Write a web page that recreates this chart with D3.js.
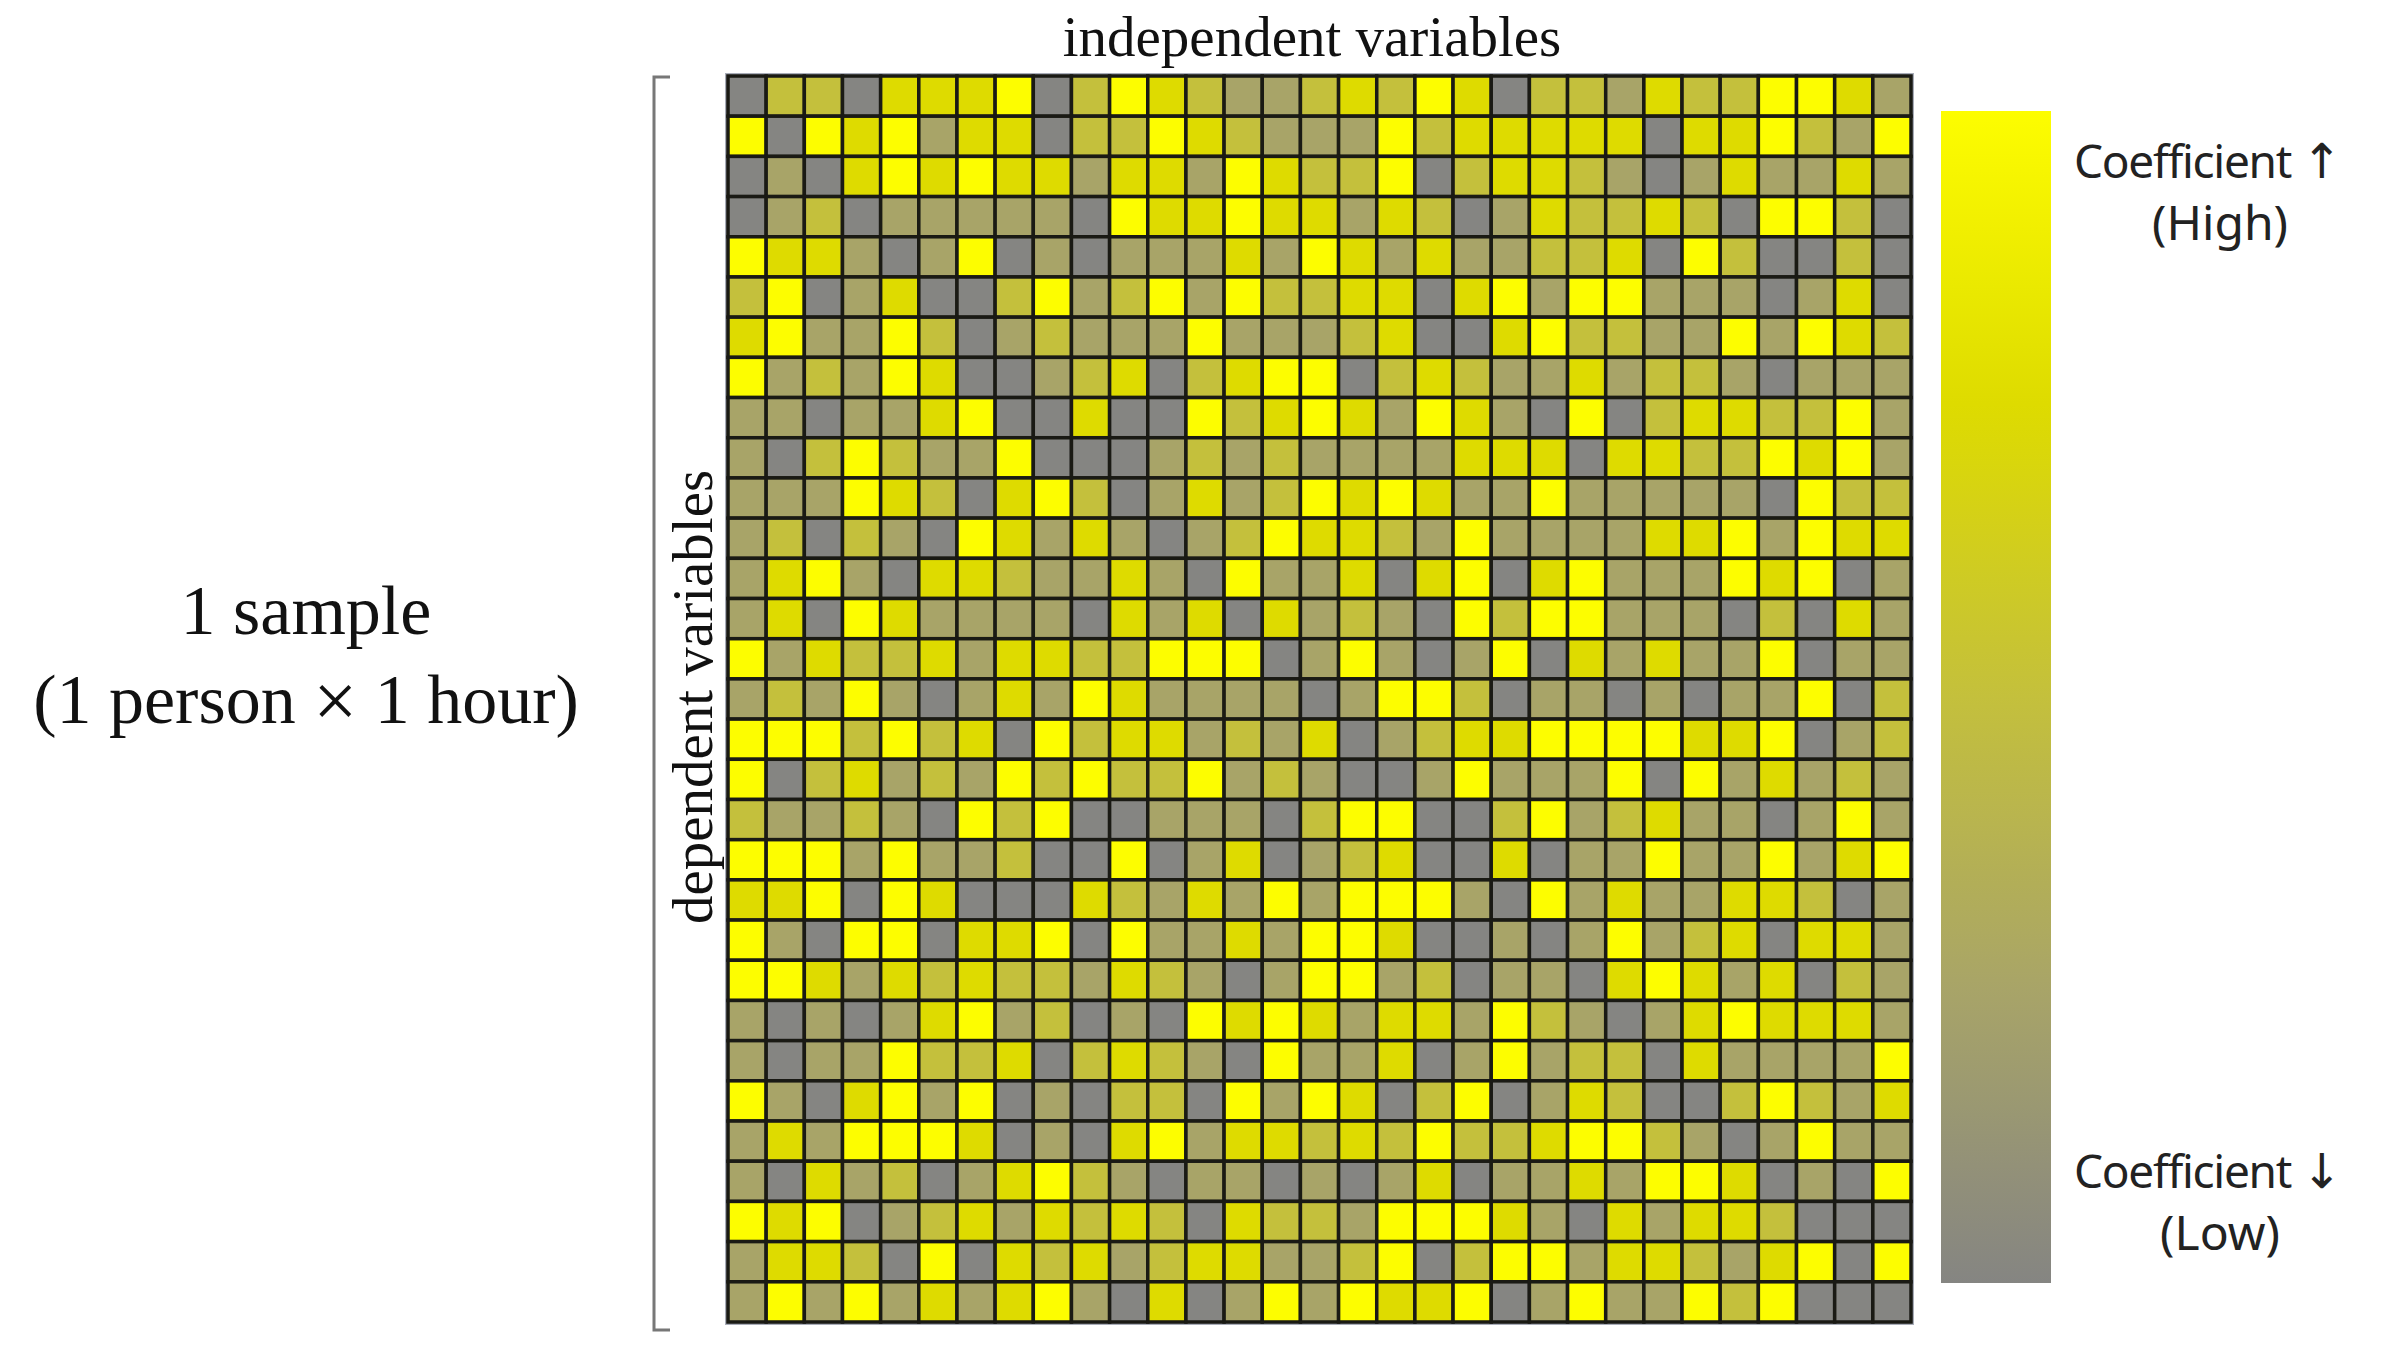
<!DOCTYPE html>
<html>
<head>
<meta charset="utf-8">
<script src="https://cdn.jsdelivr.net/npm/d3@7"></script>
<style>
  body { margin: 0; background: #fff; }
</style>
</head>
<body>
<script>
// Coefficient level per cell (0 = lowest / grey ... 4 = highest / yellow), rows = dependent variables
const coefLevels = [
  [0,2,2,0,3,3,3,4,0,2,4,3,2,1,1,2, 3,2,4,3,0,2,2,1,3,2,2,4,4,3,1],
  [4,0,4,3,4,1,3,3,0,2,2,4,3,2,1,1, 1,4,2,3,3,3,3,3,0,3,3,4,2,1,4],
  [0,1,0,3,4,3,4,3,3,1,3,3,1,4,3,2, 2,4,0,2,3,3,2,1,0,1,3,1,1,3,1],
  [0,1,2,0,1,1,1,1,1,0,4,3,3,4,3,3, 1,3,2,0,1,3,2,2,3,2,0,4,4,2,0],
  [4,3,3,1,0,1,4,0,1,0,1,1,1,3,1,4, 3,1,3,1,1,2,2,3,0,4,2,0,0,2,0],
  [2,4,0,1,3,0,0,2,4,1,2,4,1,4,2,2, 3,3,0,3,4,1,4,4,1,1,1,0,1,3,0],
  [3,4,1,1,4,2,0,1,2,1,1,1,4,1,1,1, 2,3,0,0,3,4,2,2,1,1,4,1,4,3,2],
  [4,1,2,1,4,3,0,0,1,2,3,0,2,3,4,4, 0,2,3,2,1,1,3,1,2,2,1,0,1,1,1],
  [1,1,0,1,1,3,4,0,0,3,0,0,4,2,3,4, 3,1,4,3,1,0,4,0,2,3,3,2,2,4,1],
  [1,0,2,4,2,1,1,4,0,0,0,1,2,1,2,1, 1,1,1,3,3,3,0,3,3,2,2,4,3,4,1],
  [1,1,1,4,3,2,0,3,4,2,0,1,3,1,2,4, 3,4,3,1,1,4,1,1,1,1,1,0,4,2,2],
  [1,2,0,2,1,0,4,3,1,3,1,0,1,2,4,3, 3,2,1,4,1,1,1,1,3,3,4,1,4,3,3],
  [1,3,4,1,0,3,3,2,1,1,3,1,0,4,1,1, 3,0,3,4,0,3,4,1,1,1,4,3,4,0,1],
  [1,3,0,4,3,1,1,1,1,0,3,1,3,0,3,1, 2,1,0,4,2,4,4,1,1,1,0,2,0,3,1],
  [4,1,3,2,2,3,1,3,3,2,2,4,4,4,0,1, 4,1,0,1,4,0,3,1,3,1,1,4,0,1,1],
  [1,2,1,4,1,0,1,3,1,4,3,1,1,1,1,0, 1,4,4,2,0,1,1,0,1,0,1,1,4,0,2],
  [4,4,4,2,4,2,3,0,4,2,3,3,1,2,1,3, 0,1,2,3,3,4,4,4,4,3,3,4,0,1,2],
  [4,0,2,3,1,2,1,4,2,4,2,2,4,1,2,1, 0,0,1,4,1,1,1,4,0,4,1,3,1,2,1],
  [2,1,1,2,1,0,4,2,4,0,0,1,1,1,0,2, 4,4,0,0,2,4,1,2,3,1,1,0,1,4,1],
  [4,4,4,1,4,1,1,2,0,0,4,0,1,3,0,1, 2,3,0,0,3,0,1,1,4,1,1,4,1,3,4],
  [3,3,4,0,4,3,0,0,0,3,2,1,3,1,4,1, 4,4,4,1,0,4,1,3,1,1,3,3,2,0,1],
  [4,1,0,4,4,0,3,3,4,0,4,1,1,3,1,4, 4,3,0,0,1,0,1,4,1,2,3,0,3,3,1],
  [4,4,3,1,3,2,3,2,2,1,3,2,1,0,1,4, 4,1,2,0,1,1,0,3,4,3,1,3,0,2,1],
  [1,0,1,0,1,3,4,1,2,0,1,0,4,3,4,3, 1,3,3,1,4,2,1,0,1,3,4,3,3,3,1],
  [1,0,1,1,4,2,2,3,0,2,3,2,1,0,4,1, 1,3,0,1,4,1,2,2,0,3,1,1,1,1,4],
  [4,1,0,3,4,1,4,0,1,0,2,2,0,4,1,4, 3,0,2,4,0,1,3,2,0,0,2,4,2,1,3],
  [1,3,1,4,4,4,3,0,1,0,3,4,1,3,3,2, 3,2,4,2,2,3,4,4,2,1,0,1,4,1,1],
  [1,0,3,1,2,0,1,3,4,2,1,0,1,1,0,1, 0,1,3,0,1,1,3,1,4,4,3,0,1,0,4],
  [4,3,4,0,1,2,3,1,3,2,3,2,0,3,2,2, 1,4,4,4,3,1,0,3,1,3,3,2,0,0,0],
  [1,3,3,2,0,4,0,3,2,3,1,2,3,3,1,1, 2,4,0,2,4,4,1,3,3,2,1,3,4,0,4],
  [1,4,1,4,1,3,1,3,4,1,0,3,0,1,4,1, 4,3,3,4,0,1,4,1,1,4,2,4,0,0,0]
];

// Variable ids (no tick labels are shown in the figure)
const independentVars = d3.range(1, 32).map(i => "x" + i);
const dependentVars = d3.range(1, 32).map(i => "y" + i);

// Colour steps from low to high coefficient
const levelDomain = [0, 1, 2, 3, 4];
const levelColors = ["#858582", "#a8a468", "#c4c03c", "#dedb00", "#fdfd00"];

document.addEventListener("DOMContentLoaded", function () {
    const width = 2381;
    const height = 1359;

    // Heatmap area
    const grid = { left: 728, right: 1911, top: 76, bottom: 1322 };

    const svg = d3.select("body").append("svg")
        .attr("width", width)
        .attr("height", height)
        .attr("viewBox", [0, 0, width, height]);

    const x = d3.scaleBand()
        .domain(independentVars)
        .range([grid.left, grid.right]);

    const y = d3.scaleBand()
        .domain(dependentVars)
        .range([grid.top, grid.bottom]);

    const color = d3.scaleLinear()
        .domain(levelDomain)
        .range(levelColors);

    // Flatten to cells
    const cells = [];
    coefLevels.forEach((row, i) => {
        row.forEach((v, j) => {
            cells.push({ row: dependentVars[i], col: independentVars[j], value: v });
        });
    });

    // thin outer frame
    svg.append("rect")
        .attr("x", grid.left - 2)
        .attr("y", grid.top - 2)
        .attr("width", grid.right - grid.left + 4)
        .attr("height", grid.bottom - grid.top + 4)
        .attr("fill", "none")
        .attr("stroke", "#a9adb8")
        .attr("stroke-width", 2);

    // Cells
    svg.append("g")
        .selectAll("rect")
        .data(cells)
        .join("rect")
        .attr("x", d => x(d.col))
        .attr("y", d => y(d.row))
        .attr("width", x.bandwidth())
        .attr("height", y.bandwidth())
        .attr("fill", d => color(d.value))
        .attr("stroke", "#1a1a14")
        .attr("stroke-width", 3.5);

    const serif = "'Liberation Serif', 'Times New Roman', serif";

    // Top title
    svg.append("text")
        .attr("x", 1312)
        .attr("y", 56)
        .attr("text-anchor", "middle")
        .attr("font-family", serif)
        .attr("font-size", 57)
        .attr("fill", "#111")
        .text("independent variables");

    // Rotated left title
    svg.append("text")
        .attr("transform", "translate(712,697) rotate(-90)")
        .attr("text-anchor", "middle")
        .attr("font-family", serif)
        .attr("font-size", 57)
        .attr("fill", "#111")
        .text("dependent variables");

    // Bracket
    svg.append("path")
        .attr("d", `M670,${grid.top + 1} H654 V${grid.bottom + 8} H670`)
        .attr("fill", "none")
        .attr("stroke", "#777")
        .attr("stroke-width", 3);

    // Sample description
    svg.append("text")
        .attr("x", 306)
        .attr("y", 634)
        .attr("text-anchor", "middle")
        .attr("font-family", serif)
        .attr("font-size", 70)
        .attr("fill", "#111")
        .text("1 sample");

    const line2 = svg.append("text")
        .attr("x", 306)
        .attr("y", 723)
        .attr("text-anchor", "middle")
        .attr("font-family", serif)
        .attr("font-size", 70)
        .attr("fill", "#111");
    line2.append("tspan").text("(1 person ");
    line2.append("tspan").attr("font-size", 78).attr("dy", 4).text("\u00d7");
    line2.append("tspan").attr("dy", -4).text(" 1 hour)");

    // Colour bar
    const bar = { x: 1941, y: 111, w: 110, h: 1172 };
    const grad = svg.append("defs").append("linearGradient")
        .attr("id", "coefGrad")
        .attr("x1", 0).attr("y1", 0).attr("x2", 0).attr("y2", 1);
    grad.selectAll("stop")
        .data(d3.range(0, 1.0001, 0.05))
        .join("stop")
        .attr("offset", t => t)
        .attr("stop-color", t => color(4 * (1 - t)));

    svg.append("rect")
        .attr("x", bar.x)
        .attr("y", bar.y)
        .attr("width", bar.w)
        .attr("height", bar.h)
        .attr("fill", "url(#coefGrad)");

    // Colour bar labels
    const labelFont = "'Noto Sans', 'Open Sans', sans-serif";
    const barLabels = [
        { word: "Coefficient", arrow: "\u2191", sub: "(High)", y: 178 },
        { word: "Coefficient", arrow: "\u2193", sub: "(Low)", y: 1188 }
    ];

    barLabels.forEach(l => {
        const head = svg.append("text")
            .attr("x", 2074)
            .attr("y", l.y)
            .attr("font-family", labelFont)
            .attr("font-size", 46)
            .attr("fill", "#222");
        head.append("tspan")
            .attr("letter-spacing", -1.3)
            .text(l.word + " ");
        head.append("tspan")
            .attr("font-family", "'DejaVu Sans', sans-serif")
            .attr("font-size", 48)
            .text(l.arrow);

        svg.append("text")
            .attr("x", 2220)
            .attr("y", l.y + 62)
            .attr("text-anchor", "middle")
            .attr("font-family", labelFont)
            .attr("font-size", 48)
            .attr("fill", "#222")
            .text(l.sub);
    });
});
</script>
</body>
</html>
